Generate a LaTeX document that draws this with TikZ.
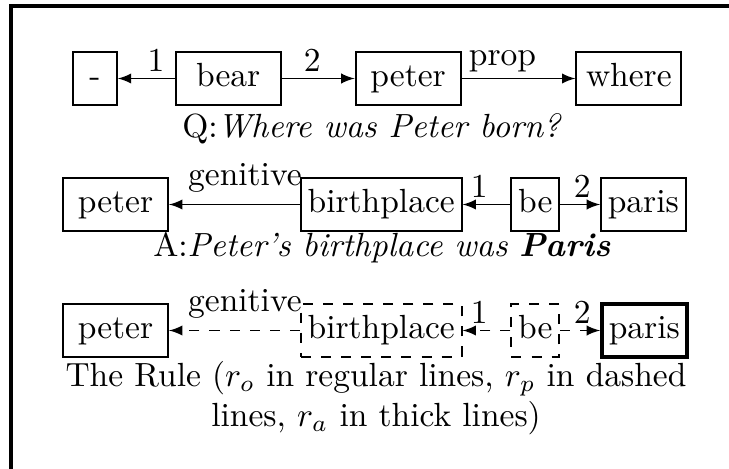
\documentclass[tikz,border=0pt]{standalone}
\usetikzlibrary{positioning}
\usepackage{amsmath}

\begin{document}
\begin{tikzpicture}[>=latex,x=0.2985pt,y=-0.2985pt,
        word/.style={draw,line width=0.6pt,minimum height=13.4pt,inner xsep=2pt,text height=7pt,text depth=2pt},
        wide/.style={word,minimum width=31.3pt},
        rp/.style={word,dashed},
        ra/.style={word,line width=1.2pt},
        lab/.style={inner sep=1.8pt}]
        \useasboundingbox (0,0) rectangle (729,469);
        \draw[line width=0.9pt] (11,469) -- (11,6) -- (729,6);
        % question graph
        \node[word,minimum width=13pt] (dash) at (95,78.5) {-};
        \node[wide,right=17pt of dash] (bear) {bear};
        \node[wide,right=21.8pt of bear] (qpeter) {peter};
        \node[wide,right=34pt of qpeter] (where) {where};
        \draw[->] (bear) -- node[lab,above,pos=.33] {1} (dash);
        \draw[->] (bear) -- node[lab,above,pos=.42] {2} (qpeter);
        \draw[->] (qpeter) -- node[lab,above,pos=.36] {prop} (where);
        \node (q) at (372,129) {Q:\textit{Where was Peter born?}};
        % answer graph
        \node[wide] (apeter) at (115.5,204.5) {peter};
        \node[word,right=39.1pt of apeter] (abirth) {birthplace};
        \node[word,right=14.3pt of abirth] (abe) {be};
        \node[word,right=11.9pt of abe] (aparis) {paris};
        \draw[->] (abirth) -- node[above,pos=.42] {genitive} (apeter);
        \draw[->] (abe) -- node[lab,above,pos=.65] {1} (abirth);
        \draw[->] (abe) -- node[lab,above,pos=.55] {2} (aparis);
        \node (a) at (382,248) {A:\textit{Peter's birthplace was \textbf{Paris}}};
        % the rule
        \node[wide] (rpeter) at (115.5,330.5) {peter};
        \node[rp,right=39.1pt of rpeter] (rbirth) {birthplace};
        \node[rp,right=14.3pt of rbirth] (rbe) {be};
        \node[ra,right=11.9pt of rbe] (rparis) {paris};
        \draw[->,dashed] (rbirth) -- node[above,pos=.42] {genitive} (rpeter);
        \draw[->,dashed] (rbe) -- node[lab,above,pos=.65] {1} (rbirth);
        \draw[->,dashed] (rbe) -- node[lab,above,pos=.55] {2} (rparis);
        \node[align=center] (rule) at (376,398) {The Rule ($r_o$ in regular lines, $r_p$ in dashed\\lines, $r_a$ in thick lines)};
\end{tikzpicture}
\end{document}
